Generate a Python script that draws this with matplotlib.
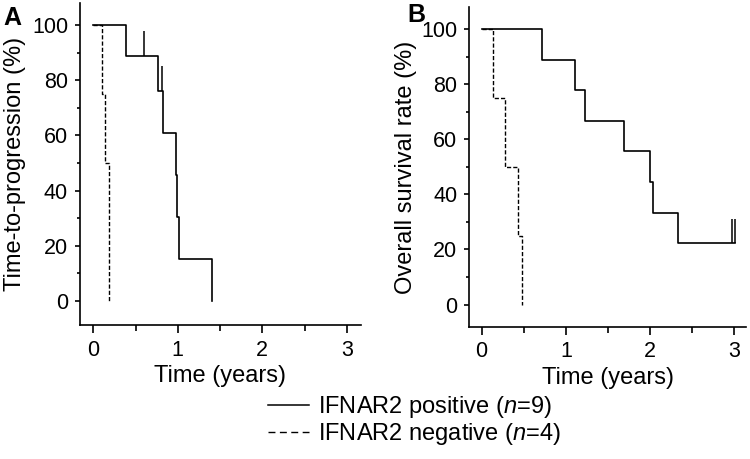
import numpy as np
import matplotlib
matplotlib.use("Agg")
import matplotlib.pyplot as plt
from matplotlib.lines import Line2D
from matplotlib.ticker import MultipleLocator

plt.rcParams["font.family"] = ["Liberation Sans", "DejaVu Sans"]
plt.rcParams["mathtext.fontset"] = "custom"
plt.rcParams["mathtext.rm"] = "Liberation Sans"
plt.rcParams["mathtext.it"] = "Liberation Sans:italic"

# A: time-to-progression (Kaplan-Meier steps, years / %)
ttp_pos_t = [0, 0.385, 0.77, 0.825, 0.98, 0.995, 1.01, 1.40]
ttp_pos_s = [100, 88.9, 76.2, 61.0, 45.7, 30.5, 15.2, 0]
ttp_pos_cens_t = [0.60, 0.81]
ttp_pos_cens_s = [88.9, 76.2]
ttp_neg_t = [0, 0.10, 0.14, 0.185]
ttp_neg_s = [100, 75, 50, 0]

# B: overall survival
os_pos_t = [0, 0.713, 1.11, 1.23, 1.69, 2.00, 2.04, 2.335, 3.01]
os_pos_s = [100, 88.9, 77.8, 66.7, 55.6, 44.4, 33.3, 22.2, 22.2]
os_pos_cens_t = [2.975, 3.01]
os_pos_cens_s = [22.2, 22.2]
os_neg_t = [0, 0.138, 0.277, 0.427, 0.475]
os_neg_s = [100, 75, 50, 25, 0]

xticks = [0, 1, 2, 3]
yticks = [0, 20, 40, 60, 80, 100]
labels = ["IFNAR2 positive ($n$=9)", "IFNAR2 negative ($n$=4)"]

CENS_H = 9.0
DASH = (0, (3, 1.5))

fig = plt.figure(figsize=(7.5, 4.59), dpi=100)
axA = fig.add_axes([0.1067, 0.292, 0.3743, 0.7008])
axB = fig.add_axes([0.6257, 0.288, 0.3686, 0.696])


def km_panel(ax, pos_t, pos_s, cens_t, cens_s, neg_t, neg_s, ylabel, ylim, xlim, ypad):
    ax.step(neg_t, neg_s, where="post", color="k", lw=1.0, ls=DASH, zorder=2)
    ax.step(pos_t, pos_s, where="post", color="k", lw=1.2, zorder=3)
    cs = np.array(cens_s)
    ax.vlines(cens_t, cs, cs + CENS_H, color="k", lw=1.1, zorder=3)

    ax.set_xlim(*xlim)
    ax.set_ylim(*ylim)
    ax.set_xticks(xticks)
    ax.set_yticks(yticks)
    ax.xaxis.set_minor_locator(MultipleLocator(0.5))
    ax.yaxis.set_minor_locator(MultipleLocator(10))
    for s in ("top", "right"):
        ax.spines[s].set_visible(False)
    for s in ("left", "bottom"):
        ax.spines[s].set_linewidth(1.2)
    ax.tick_params(axis="x", which="major", length=5.5, width=1.2, pad=5, labelsize=15.5)
    ax.tick_params(axis="x", which="minor", length=4, width=1.2)
    ax.tick_params(axis="y", which="major", length=3.6, width=1.2, pad=5, labelsize=15.5)
    ax.tick_params(axis="y", which="minor", length=2, width=1.2)
    ax.set_xlabel("Time (years)", fontsize=17, labelpad=3)
    ax.set_ylabel(ylabel, fontsize=17, labelpad=ypad)


km_panel(axA, ttp_pos_t, ttp_pos_s, ttp_pos_cens_t, ttp_pos_cens_s,
         ttp_neg_t, ttp_neg_s, "Time-to-progression (%)",
         (-8.7, 107.9), (-0.157, 3.165), 4.5)
km_panel(axB, os_pos_t, os_pos_s, os_pos_cens_t, os_pos_cens_s,
         os_neg_t, os_neg_s, "Overall survival rate (%)",
         (-8.1, 107.9), (-0.147, 3.135), 3)

fig.text(0.004, 1 - 25 / 459, "A", fontsize=18, fontweight="bold", va="baseline")
fig.text(0.543, 1 - 22 / 459, "B", fontsize=18, fontweight="bold", va="baseline")

handles = [Line2D([], [], color="k", lw=1.1),
           Line2D([], [], color="k", lw=1.0, ls=(0, (5.0, 3.2)))]
fig.legend(handles, labels, loc="center left", bbox_to_anchor=(0.3577, 0.0830),
           frameon=False, fontsize=17, handlelength=1.74, handletextpad=0.38,
           labelspacing=0.05, borderpad=0, borderaxespad=0)

fig.savefig("out.png", dpi=100, facecolor="white")
